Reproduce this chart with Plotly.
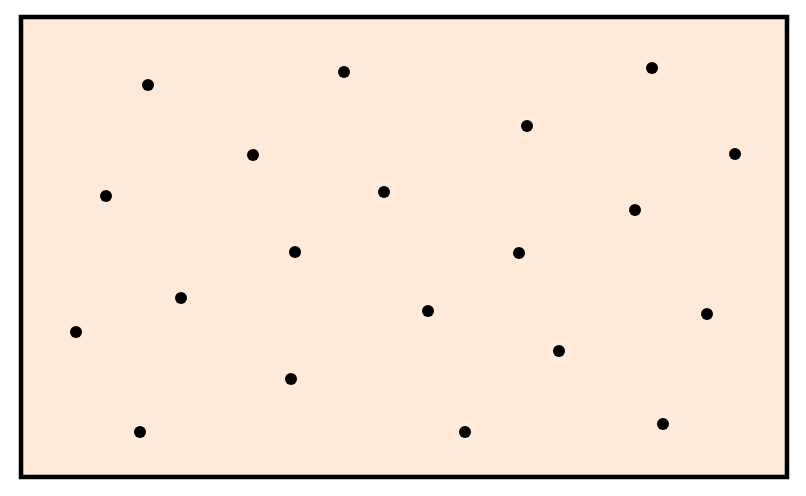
import plotly.graph_objects as go

# Point positions (data units)
x_vals = [127, 323, 631, 506, 232, 714, 85, 363, 614, 274, 498, 160, 407, 686, 55, 538, 270, 119, 444, 642]
y_vals = [392, 405, 409, 351, 322, 323, 281, 285, 267, 225, 224, 179, 166, 163, 145, 126, 98, 45, 45, 53]

fig = go.Figure()
fig.add_trace(go.Scatter(
    x=x_vals, y=y_vals, mode="markers",
    marker=dict(size=12, color="black", line=dict(width=0)),
    hoverinfo="skip", showlegend=False,
))

fig.update_layout(
    width=806, height=496,
    margin=dict(l=13, r=27, t=9, b=27),
    paper_bgcolor="white",
    plot_bgcolor="rgb(255,233,217)",
    xaxis=dict(range=[0, 766], visible=False, fixedrange=True),
    yaxis=dict(range=[0, 460], visible=False, fixedrange=True),
    shapes=[dict(type="rect", xref="paper", yref="paper", x0=0, y0=0, x1=1, y1=1,
                 line=dict(color="black", width=4.5), layer="above")],
)

fig.write_html("out.html", config={"displayModeBar": False})
